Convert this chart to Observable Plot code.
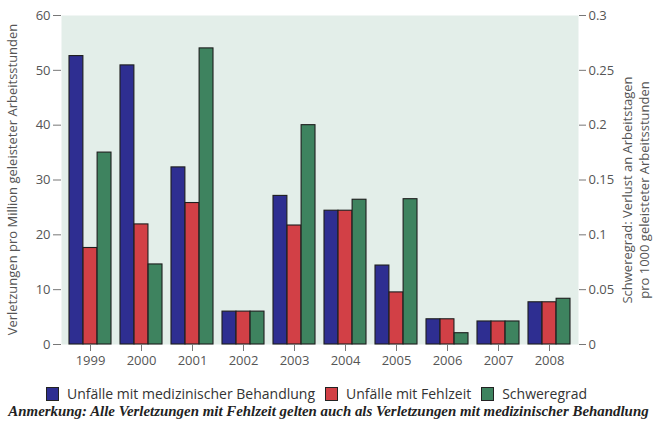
<!DOCTYPE html>
<html><head><meta charset="utf-8">
<script src="https://cdn.jsdelivr.net/npm/d3@7"></script>
<script src="https://cdn.jsdelivr.net/npm/@observablehq/plot@0.6"></script>
<style>
body{margin:0;background:#fff;font-family:"Open Sans",sans-serif;}
#chart{width:657px;height:423px;position:relative;overflow:hidden}
.legend{display:flex;align-items:center;margin-left:46px;font-size:14px;color:#333;height:17px;margin-top:10px;white-space:nowrap}
.sw{width:13px;height:14px;border:1.2px solid #222;margin-right:8px;box-sizing:border-box}
.item{display:flex;align-items:center;margin-right:10px}
.note{font-family:"Liberation Serif",serif;font-style:italic;font-weight:bold;font-size:14.9px;color:#222;text-align:center;margin-top:1px;white-space:nowrap}
</style></head>
<body><div id="chart"></div>
<script>
const years = ["1999","2000","2001","2002","2003","2004","2005","2006","2007","2008"];
const medical = [52.6, 50.9, 32.3, 6.0, 27.1, 24.4, 14.4, 4.6, 4.2, 7.7];
const lostTime = [17.6, 21.9, 25.8, 6.0, 21.7, 24.4, 9.5, 4.6, 4.2, 7.7];
const severity = [0.175, 0.073, 0.27, 0.03, 0.2, 0.132, 0.1325, 0.0103, 0.021, 0.0417];
const leftTicks = [0, 10, 20, 30, 40, 50, 60];
const rightTicks = [0, 0.05, 0.1, 0.15, 0.2, 0.25, 0.3];
const seriesNames = ["Unfälle mit medizinischer Behandlung", "Unfälle mit Fehlzeit", "Schweregrad"];
const colors = ["#2e2e91", "#d24046", "#3e835f"];
const leftLabel = "Verletzungen pro Million geleisteter Arbeitsstunden";
const rightLabel = ["Schweregrad: Verlust an Arbeitstagen", "pro 1000 geleisteter Arbeitsstunden"];
const note = "Anmerkung: Alle Verletzungen mit Fehlzeit gelten auch als Verletzungen mit medizinischer Behandlung";

const W = 657, H = 375, mL = 61, mR = 79, mT = 15, mB = 31;
const pIn = 0.18, pOut = 0.117;
const factor = leftTicks[leftTicks.length - 1] / rightTicks[rightTicks.length - 1];
const step = (W - mL - mR) / (years.length - pIn + 2 * pOut);
const third = step * (1 - pIn) / 3;
const seriesValues = [medical, lostTime, severity.map(v => v * factor)];

const barMarks = seriesValues.map((vals, s) => Plot.barY(years, {
  x: d => d,
  y: (d, i) => vals[i],
  fill: colors[s],
  stroke: "#1e1e1e",
  strokeWidth: 1.1,
  insetLeft: s * third,
  insetRight: (2 - s) * third
}));

const plot = Plot.plot({
  width: W, height: H,
  marginLeft: mL, marginRight: mR, marginTop: mT, marginBottom: mB,
  style: {fontFamily: "Open Sans", fontSize: "13px", color: "#555", background: "transparent"},
  x: {type: "band", domain: years, paddingInner: pIn, paddingOuter: pOut, label: null},
  y: {domain: [0, 60], label: null},
  marks: [
    Plot.frame({fill: "#e3eee9", stroke: null}),
    ...barMarks,
    Plot.axisX({tickSize: 7, tickPadding: 4, stroke: "#777", label: null}),
    Plot.axisY({anchor: "left", ticks: leftTicks, tickSize: 8, tickPadding: 3, stroke: "#777", label: null}),
    Plot.axisY({anchor: "right", ticks: rightTicks.map(t => t * factor), tickFormat: (d, i) => String(rightTicks[i]), tickSize: 7, tickPadding: 3, stroke: "#777", label: null})
  ]
});

const svg = d3.select(plot);
svg.append("text")
  .attr("transform", `translate(14,${(mT + H - mB) / 2}) rotate(-90)`)
  .attr("text-anchor", "middle").attr("dominant-baseline", "middle")
  .attr("fill", "#555").attr("font-size", 13).attr("font-family", "Open Sans")
  .text(leftLabel);
rightLabel.forEach((t, i) => {
  svg.append("text")
    .attr("transform", `translate(${629 + i * 17},190) rotate(-90)`)
    .attr("text-anchor", "middle").attr("dominant-baseline", "middle")
    .attr("fill", "#555").attr("font-size", 13).attr("font-family", "Open Sans")
    .text(t);
});

const chart = document.getElementById("chart");
chart.appendChild(plot);
const legend = document.createElement("div");
legend.className = "legend";
seriesNames.forEach((n, i) => {
  const it = document.createElement("div");
  it.className = "item";
  const sw = document.createElement("div");
  sw.className = "sw"; sw.style.background = colors[i];
  const tx = document.createElement("span"); tx.textContent = n;
  it.appendChild(sw); it.appendChild(tx);
  legend.appendChild(it);
});
chart.appendChild(legend);
const nt = document.createElement("div");
nt.className = "note"; nt.textContent = note;
chart.appendChild(nt);
</script></body></html>
